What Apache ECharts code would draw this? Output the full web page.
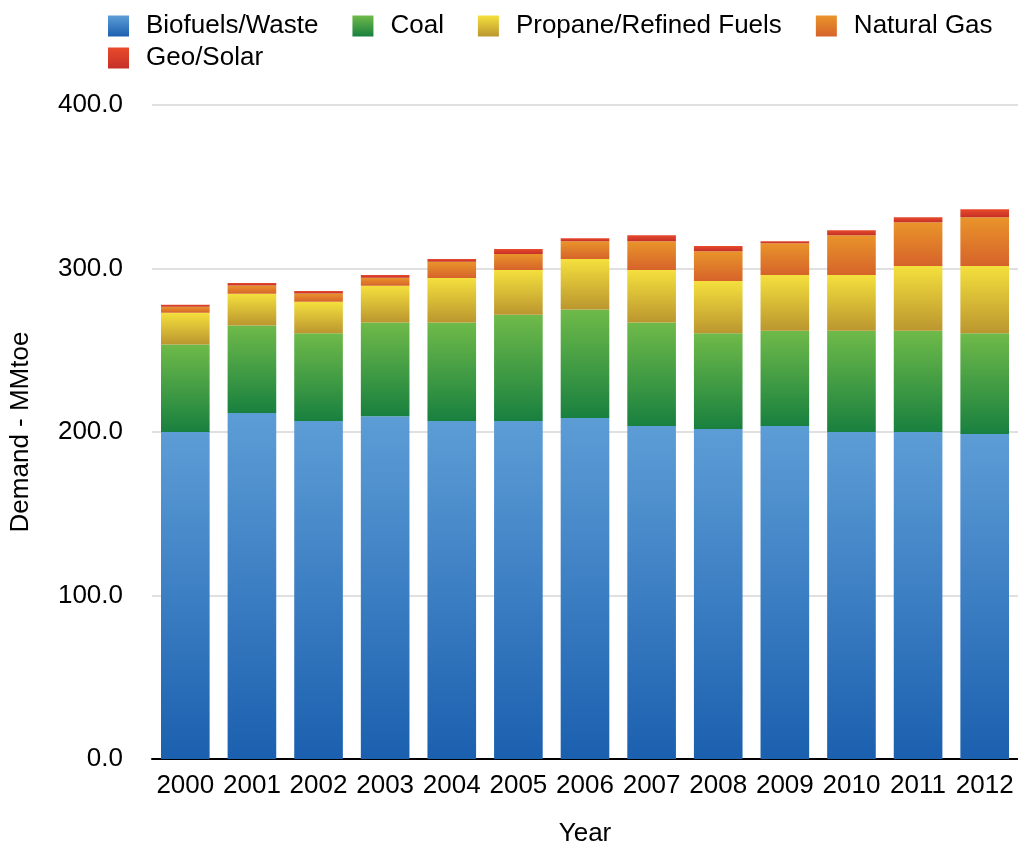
<!DOCTYPE html>
<html lang="en">
<head>
    <meta charset="UTF-8">
    <title>Demand by fuel</title>
    <script src="https://cdn.jsdelivr.net/npm/echarts@6/dist/echarts.min.js"></script>
    <style>
        html, body { margin: 0; padding: 0; background: #fff; overflow: hidden; }
        #main { width: 1018px; height: 852px; }
    </style>
</head>
<body>
    <div id="main"></div>
<script>
    // values, MMtoe
    let years = ['2000', '2001', '2002', '2003', '2004', '2005', '2006', '2007', '2008', '2009', '2010', '2011', '2012'];
    let biofuels = [200.0, 211.6, 206.7, 209.7, 206.7, 206.7, 208.5, 203.6, 201.8, 203.6, 200.0, 200.0, 198.8];
    let coal = [53.5, 53.6, 53.7, 57.2, 60.2, 65.0, 66.5, 63.3, 58.6, 58.4, 62.0, 62.0, 61.6];
    let propane = [19.4, 19.3, 19.2, 22.5, 27.3, 27.4, 30.8, 32.2, 32.0, 34.0, 34.0, 39.5, 41.1];
    let natGas = [3.7, 5.1, 5.1, 5.0, 9.9, 9.7, 10.9, 17.6, 18.2, 19.5, 24.4, 26.8, 29.8];
    let geoSolar = [1.2, 1.6, 1.6, 1.6, 1.7, 3.1, 1.8, 3.7, 3.1, 1.2, 3.0, 3.0, 4.9];

    let font = 'Liberation Sans, Arial, sans-serif';
    let myChart = echarts.init(document.getElementById('main'));

    function grad(top, bottom) {
        return new echarts.graphic.LinearGradient(0, 0, 0, 1, [
            { offset: 0, color: top },
            { offset: 1, color: bottom }
        ]);
    }

    let seriesList = [
        { name: 'Biofuels/Waste', data: biofuels, color: grad('#5d9dd6', '#1b60af') },
        { name: 'Coal', data: coal, color: grad('#6fba49', '#18803f') },
        { name: 'Propane/Refined Fuels', data: propane, color: grad('#f4e03d', '#bb962f') },
        { name: 'Natural Gas', data: natGas, color: grad('#e9942a', '#d6632a') },
        { name: 'Geo/Solar', data: geoSolar, color: grad('#e84b2b', '#c52f27') }
    ];

    let legendText = {
        fontFamily: font,
        fontSize: 26,
        color: '#000',
        padding: [0, 0, 0, 12]
    };

    myChart.setOption({
        animation: false,
        legend: [{
            left: 103,
            top: 8,
            icon: 'rect',
            itemWidth: 21,
            itemHeight: 21,
            itemGap: 34,
            textStyle: legendText,
            data: ['Biofuels/Waste', 'Coal', 'Propane/Refined Fuels', 'Natural Gas']
        }, {
            left: 103,
            top: 40,
            icon: 'rect',
            itemWidth: 21,
            itemHeight: 21,
            textStyle: legendText,
            data: ['Geo/Solar']
        }],
        grid: {
            left: 152,
            right: -7,
            top: 105,
            bottom: 88,
            containLabel: false
        },
        xAxis: {
            type: 'category',
            data: years,
            name: 'Year',
            nameLocation: 'middle',
            nameGap: 62,
            nameTextStyle: { fontFamily: font, fontSize: 26, color: '#000' },
            axisLine: { lineStyle: { color: '#000', width: 2 } },
            axisTick: { show: false },
            axisLabel: { interval: 0, fontFamily: font, fontSize: 26, color: '#000', margin: 14 }
        },
        yAxis: {
            type: 'value',
            min: 0,
            max: 400,
            interval: 100,
            name: 'Demand - MMtoe',
            nameLocation: 'middle',
            nameGap: 118,
            nameTextStyle: { fontFamily: font, fontSize: 26, color: '#000' },
            axisLine: { show: false },
            axisTick: { show: false },
            axisLabel: {
                fontFamily: font,
                fontSize: 26,
                color: '#000',
                margin: 29,
                formatter: function(v) { return v.toFixed(1); }
            },
            splitLine: { lineStyle: { color: '#d6d6d6', width: 1.5 } }
        },
        series: seriesList.map(function(s) {
            return {
                name: s.name,
                type: 'bar',
                stack: 'total',
                data: s.data,
                barCategoryGap: '27%',
                itemStyle: { color: s.color }
            };
        })
    });
</script>
</body>
</html>
